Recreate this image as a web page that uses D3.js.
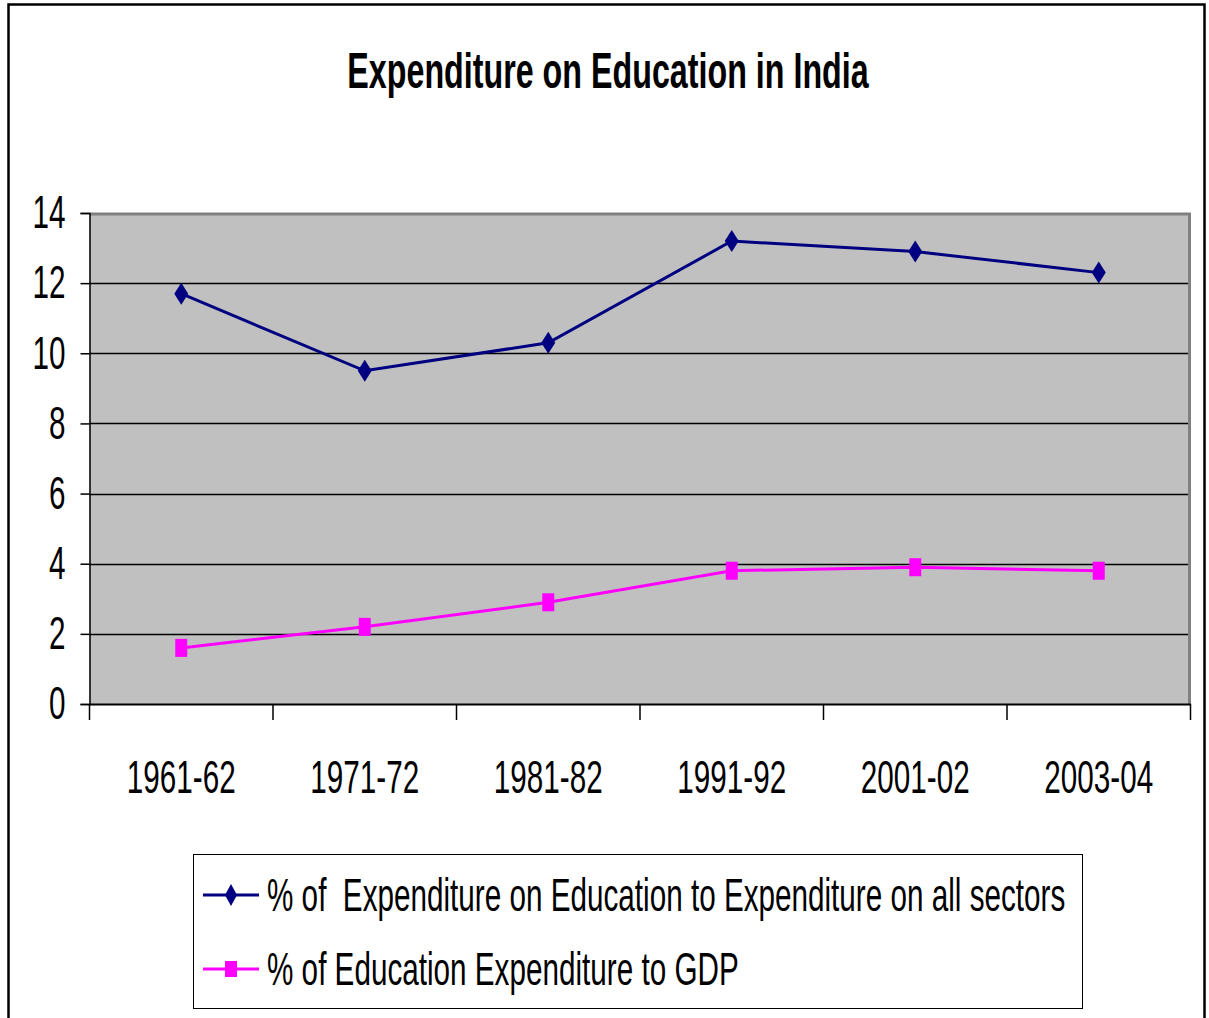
<!DOCTYPE html>
<html>
<head>
<meta charset="utf-8">
<script src="https://cdn.jsdelivr.net/npm/d3@7"></script>
<style>
  body { margin: 0; background: #fff; }
  text { font-family: "Liberation Sans", Arial, sans-serif; white-space: pre; }
</style>
</head>
<body>
<div id="chart"></div>
<script>
// chart data
var categories = ["1961-62", "1971-72", "1981-82", "1991-92", "2001-02", "2003-04"]
var sectorShare = [11.7, 9.5, 10.3, 13.2, 12.9, 12.3]
var gdpShare = [1.6, 2.2, 2.9, 3.8, 3.9, 3.8]
var yTicks = [0, 2, 4, 6, 8, 10, 12, 14]
var seriesNames = ["% of  Expenditure on Education to Expenditure on all sectors", "% of Education Expenditure to GDP"]

var width = 1209, height = 1018
var plot = {left: 89.5, top: 213, right: 1190.5, bottom: 704}
var narrow = 0.645   // the original font is a narrow face

var svg = d3.select('#chart').append('svg')
    .attr('width', width)
    .attr('height', height)

// squeeze text horizontally to mimic the narrow font
function squeeze(sel) {
    sel.each(function() {
        var w = this.getComputedTextLength()
        d3.select(this)
            .attr('textLength', w * narrow)
            .attr('lengthAdjust', 'spacingAndGlyphs')
    })
}

// outer frame
svg.append('rect')
    .attr('x', 8.5).attr('y', 4.5)
    .attr('width', 1196).attr('height', 1030)
    .attr('fill', 'none')
    .attr('stroke', '#000')
    .attr('stroke-width', 2.5)

svg.append('text')
    .attr('x', 608).attr('y', 88)
    .attr('text-anchor', 'middle')
    .attr('font-size', 50)
    .attr('font-weight', 'bold')
    .text('Expenditure on Education in India')
    .call(squeeze)

var xScale = d3.scaleBand().domain(categories).range([plot.left, plot.right])
var yScale = d3.scaleLinear().domain([0, 14]).range([plot.bottom, plot.top])

// plot background
svg.append('rect')
    .attr('x', plot.left).attr('y', plot.top)
    .attr('width', plot.right - plot.left)
    .attr('height', plot.bottom - plot.top)
    .attr('fill', '#C0C0C0')

// gridlines
svg.append('g').selectAll('line')
    .data(yTicks.filter(function(d){ return d > 0 && d < 14 }))
    .enter().append('line')
    .attr('x1', plot.left).attr('x2', plot.right)
    .attr('y1', function(d){ return Math.round(yScale(d)) + 0.5 })
    .attr('y2', function(d){ return Math.round(yScale(d)) + 0.5 })
    .attr('stroke', '#000').attr('stroke-width', 1.5)

// gray top and right edges of the plot area
svg.append('path')
    .attr('d', 'M' + plot.left + ',' + (plot.top + 1) + 'H' + (plot.right - 1) + 'V' + plot.bottom)
    .attr('fill', 'none')
    .attr('stroke', '#808080')
    .attr('stroke-width', 3)

// y axis
var yAxis = d3.axisLeft(yScale).tickValues(yTicks).tickSize(9).tickPadding(15).tickFormat(function(d){ return d })
var gy = svg.append('g')
    .attr('transform', 'translate(' + plot.left + ',0)')
    .call(yAxis)
gy.select('.domain').attr('stroke', '#000').attr('stroke-width', 1.5)
gy.selectAll('.tick line').attr('stroke', '#000').attr('stroke-width', 1.5)
gy.selectAll('.tick text')
    .attr('font-size', 46)
    .attr('font-family', null)
    .attr('fill', '#000')
    .call(squeeze)

// x axis: ticks sit between the categories
var xAxis = d3.axisBottom(xScale).tickSize(0).tickPadding(56)
var gx = svg.append('g')
    .attr('transform', 'translate(0,' + plot.bottom + ')')
    .call(xAxis)
gx.select('.domain').attr('stroke', '#000').attr('stroke-width', 2)
gx.selectAll('.tick text')
    .attr('font-size', 46)
    .attr('font-family', null)
    .attr('fill', '#000')
    .call(squeeze)
var bounds = categories.map(function(c){ return xScale(c) }).concat([plot.right])
gx.selectAll('.sep')
    .data(bounds)
    .enter().append('line')
    .attr('class', 'sep')
    .attr('x1', function(d){ return d }).attr('x2', function(d){ return d })
    .attr('y1', 0).attr('y2', 16)
    .attr('stroke', '#000').attr('stroke-width', 1.5)

var cx = function(c){ return xScale(c) + xScale.bandwidth() / 2 }

var lineGen = d3.line()
    .x(function(d){ return cx(d.cat) })
    .y(function(d){ return yScale(d.value) })

function toPoints(values) {
    return values.map(function(v, i){ return {cat: categories[i], value: v} })
}

var diamond = 'M0,-11L7,0L0,11L-7,0Z'

function drawSeries(values, color, marker) {
    var pts = toPoints(values)
    svg.append('path')
        .attr('d', lineGen(pts))
        .attr('fill', 'none')
        .attr('stroke', color)
        .attr('stroke-width', 3)
    var g = svg.append('g')
    if (marker == 'diamond') {
        g.selectAll('path')
            .data(pts).enter().append('path')
            .attr('d', diamond)
            .attr('transform', function(d){ return 'translate(' + cx(d.cat) + ',' + yScale(d.value) + ')' })
            .attr('fill', color)
    } else {
        g.selectAll('rect')
            .data(pts).enter().append('rect')
            .attr('x', function(d){ return cx(d.cat) - 6 })
            .attr('y', function(d){ return yScale(d.value) - 9 })
            .attr('width', 12).attr('height', 18)
            .attr('fill', color)
    }
}

drawSeries(sectorShare, '#000080', 'diamond')
drawSeries(gdpShare, '#FF00FF', 'square')

// legend
svg.append('rect')
    .attr('x', 193.5).attr('y', 854.5)
    .attr('width', 889).attr('height', 154)
    .attr('fill', '#fff')
    .attr('stroke', '#000').attr('stroke-width', 1)

var legendColors = ['#000080', '#FF00FF']
var legendRows = svg.append('g').selectAll('g')
    .data(seriesNames)
    .enter().append('g')
    .attr('transform', function(d, i){ return 'translate(0,' + (895 + i * 74) + ')' })
legendRows.append('line')
    .attr('x1', 203).attr('x2', 259)
    .attr('stroke', function(d, i){ return legendColors[i] })
    .attr('stroke-width', 3)
legendRows.append('path')
    .attr('d', function(d, i){ return i == 0 ? 'M0,-11L6,0L0,11L-6,0Z' : 'M-6,-8H6V8H-6Z' })
    .attr('transform', 'translate(231,0)')
    .attr('fill', function(d, i){ return legendColors[i] })
legendRows.append('text')
    .attr('x', 267).attr('y', 16)
    .attr('font-size', 46)
    .text(function(d){ return d })
    .call(squeeze)
</script>
</body>
</html>
